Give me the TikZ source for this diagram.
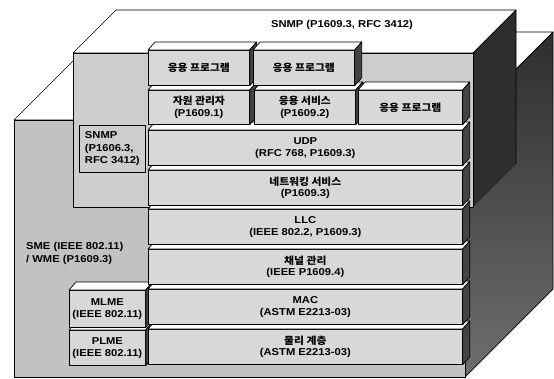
\documentclass[tikz,border=0pt]{standalone}
\usepackage{fontspec}
\setmainfont{Liberation Sans}[FakeStretch=1.12]
\newfontfamily\kr{Noto Sans CJK KR}[FakeStretch=1.08]
\definecolor{stackc}{HTML}{D8D8D8}
\definecolor{snmpc}{HTML}{CDCDCD}
\definecolor{smec}{HTML}{C2C2C2}
\definecolor{darkc}{HTML}{2E2E2E}
\definecolor{darkb}{HTML}{6E6E6E}
\definecolor{sidec}{HTML}{444444}
\newcommand\ko[1]{{\kr\bfseries #1}}
\newcommand\boxfaces[1]{%
  \draw[topf] (#1.north west) -- ++(7,-8) -- ([shift={(7pt,8pt)}]#1.north east) -- (#1.north east) -- cycle;
  \draw[sidef] (#1.north east) -- ([shift={(7pt,8pt)}]#1.north east) -- ([shift={(7pt,8pt)}]#1.south east) -- (#1.south east) -- cycle;}
\begin{document}
\begin{tikzpicture}[x=1pt,y=-1pt,
  face/.style={draw=black, line width=0.7pt, line join=round},
  topf/.style={face, fill=white},
  sidef/.style={face, fill=sidec},
  layer/.style={face, fill=stackc, anchor=north west, inner sep=0pt,
    minimum width=314pt, minimum height=35pt, align=center,
    font=\bfseries\fontsize{10}{11.5}\selectfont},
  appbox/.style={layer, minimum width=101pt, minimum height=34pt},
  lbl/.style={inner sep=0pt, align=left, font=\bfseries\fontsize{10}{13}\selectfont}]
\useasboundingbox (0,0) rectangle (554,378);
% SME / WME box (back)
\draw[topf] (14,120) -- (102,32) -- (553,32) -- (465,120) -- cycle;
\path[face, top color=darkc, bottom color=darkb] (465,120) -- (553,32) -- (553,289) -- (465,377) -- cycle;
\draw[face, fill=smec] (14,120) rectangle (465,377);
% SNMP box
\draw[topf] (73,53) -- (116,10) -- (516,10) -- (473,53) -- cycle;
\fill[darkc] (473,53) -- (516,10) -- (516,164) -- (473,207) -- cycle;
\draw[face] (473,207) -- (473,53) -- (516,10) -- (516,164);
\draw[face, fill=snmpc] (73,53) rectangle (473,207);
\node[font=\bfseries\fontsize{10}{11.5}\selectfont] (snmpt) at (342,25) {SNMP (P1609.3, RFC 3412)};
\node[face, fill=snmpc, anchor=north west, minimum width=66pt, minimum height=47pt,
  inner sep=0pt, align=left,
  font=\bfseries\fontsize{10}{12.5}\selectfont] (snmpl) at (79,125) {SNMP\\(P1606.3,\\RFC 3412)};
\node[lbl, anchor=north west] (smet) at (26,242) {SME (IEEE 802.11)\\/ WME (P1609.3)};
% MLME / PLME
\node[layer, minimum width=76pt, minimum height=35pt] (plme) at (69,330) {PLME\\(IEEE 802.11)};
\boxfaces{plme}
\node[layer, minimum width=76pt, minimum height=37pt] (mlme) at (69,290) {MLME\\(IEEE 802.11)};
\boxfaces{mlme}
% protocol stack, bottom to top
\node[layer] (phy) at (148,329) {\ko{물리 계층}\\(ASTM E2213-03)};
\boxfaces{phy}
\node[layer] (mac) at (148,289) {MAC\\(ASTM E2213-03)};
\boxfaces{mac}
\node[layer] (chan) at (148,249) {\ko{채널 관리}\\(IEEE P1609.4)};
\boxfaces{chan}
\node[layer] (llc) at (148,209) {LLC\\(IEEE 802.2, P1609.3)};
\boxfaces{llc}
\node[layer] (net) at (148,170) {\ko{네트워킹 서비스}\\(P1609.3)};
\boxfaces{net}
\node[layer] (udp) at (148,130) {UDP\\(RFC 768, P1609.3)};
\boxfaces{udp}
% second row
\node[appbox] (res) at (148,90) {\ko{자원 관리자}\\(P1609.1)};
\boxfaces{res}
\node[appbox] (svc) at (254,90) {\ko{응용 서비스}\\(P1609.2)};
\boxfaces{svc}
\node[appbox, minimum width=104pt] (app3) at (358,90) {\ko{응용 프로그램}};
\boxfaces{app3}
% top row
\node[appbox, minimum height=35pt] (app1) at (148,50) {\ko{응용 프로그램}};
\boxfaces{app1}
\node[appbox, minimum height=35pt] (app2) at (253,50) {\ko{응용 프로그램}};
\boxfaces{app2}
\end{tikzpicture}
\end{document}
